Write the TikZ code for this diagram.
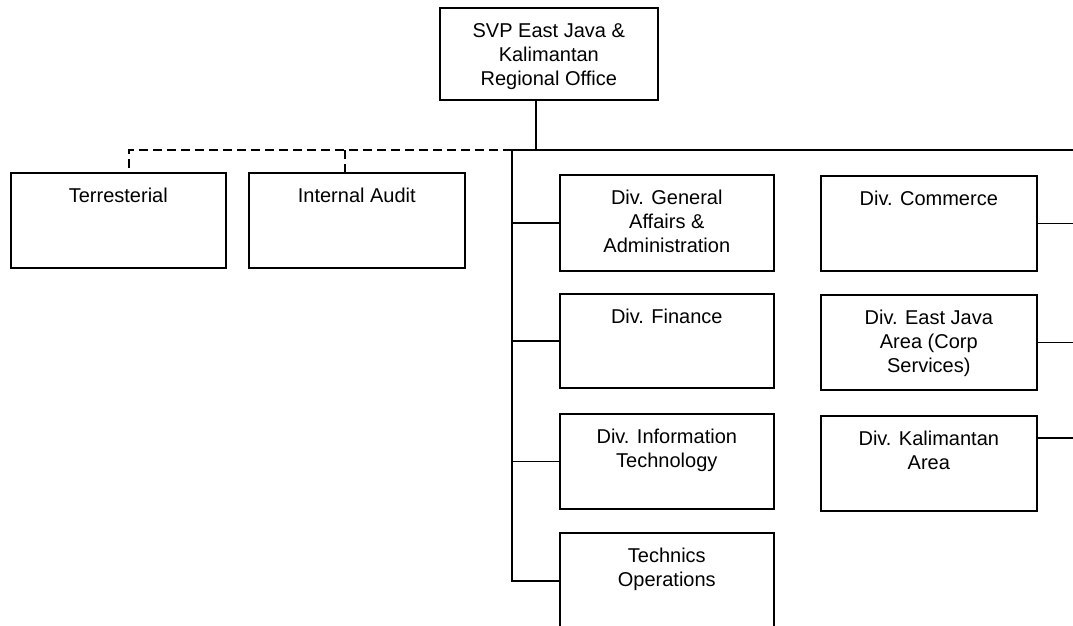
\documentclass[tikz,border=0pt]{standalone}
\usepackage{fontspec}
\setmainfont{Liberation Sans}
\usetikzlibrary{calc}
\newcommand{\bxt}[3]{\parbox[c][#2pt][t]{#1pt}{\centering\fontsize{20}{24}\selectfont\rule{0pt}{30pt}#3\par}}
\tikzset{
  orgbox/.style={draw, line width=1.6pt, inner sep=0pt, anchor=north west, fill=white},
  link/.style={line width=1.6pt},
  dlink/.style={line width=1.6pt, dash pattern=on 9pt off 5pt},
}
\begin{document}
\begin{tikzpicture}[x=1pt,y=-1pt]
\useasboundingbox[fill=white] (0,0) rectangle (1073,626);
% boxes
\node[orgbox] (svp) at (439,7) {\bxt{218}{92}{SVP East Java \&\\Kalimantan\\Regional Office}};
\node[orgbox] (terr) at (10,172) {\bxt{215}{95}{Terresterial}};
\node[orgbox] (ia) at (248,172) {\bxt{216}{95}{Internal Audit}};
\node[orgbox] (ga) at (559,174) {\bxt{214}{96}{Div. General\\Affairs \&\\Administration}};
\node[orgbox] (fin) at (559,293) {\bxt{214}{94}{Div. Finance}};
\node[orgbox] (it) at (559,413) {\bxt{214}{95}{Div. Information\\Technology}};
\node[orgbox] (tech) at (559,532) {\bxt{214}{96}{Technics\\Operations}};
\node[orgbox] (com) at (820,175) {\bxt{216}{95}{Div. Commerce}};
\node[orgbox] (ej) at (820,294) {\bxt{216}{95}{Div. East Java\\Area (Corp\\Services)}};
\node[orgbox] (kal) at (820,415) {\bxt{216}{95}{Div. Kalimantan\\Area}};
% junction coordinates
\coordinate (j) at (536,150);
\coordinate (l) at (512,150);
\coordinate (r) at (1073,150);
\coordinate (rr) at (1073,0);
\coordinate (tc) at ($(terr.north west)+(119,0)$);
\coordinate (ic) at ($(ia.north west)+(97,0)$);
\coordinate (kc) at ($(kal.north east)+(0,23)$);
% connectors
\draw[link] (j |- svp.south) -- (j);
\draw[link] (r) -- (l) -- (l |- tech.west) -- (tech.west);
\draw[link] (l |- ga.west) -- (ga.west);
\draw[link] (l |- fin.west) -- (fin.west);
\draw[link] (l |- it.west) -- (it.west);
\draw[dlink] (l) -- (tc |- l) -- (tc);
\draw[dlink] (ic |- l) -- (ic);
\draw[link] (com.east) -- (com.east -| rr);
\draw[link] (ej.east) -- (ej.east -| rr);
\draw[link] (kc) -- (kc -| rr);
\end{tikzpicture}
\end{document}
